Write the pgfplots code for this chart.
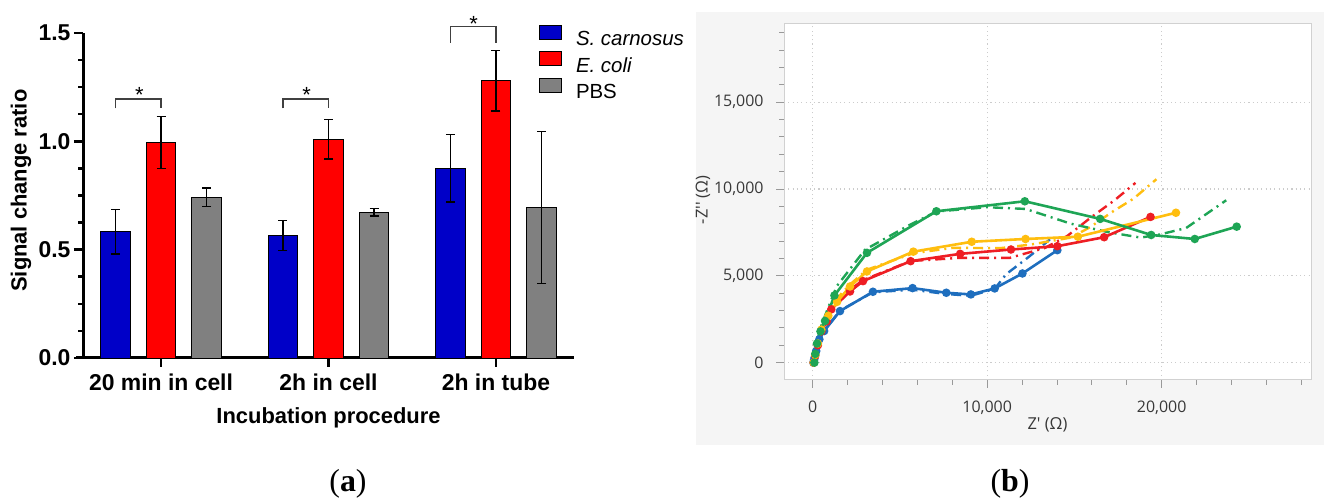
\documentclass[border=0pt]{standalone}
\usepackage{fontspec}
\setmainfont{Liberation Sans}
\newfontfamily\osans[Ligatures=TeXOff]{Open Sans}
\newfontfamily\lserif{Liberation Serif}
\usepackage{pgfplots}
\pgfplotsset{compat=1.18}
\definecolor{cblue}{RGB}{0,0,200}
\definecolor{cred}{RGB}{255,0,0}
\definecolor{cgray}{RGB}{128,128,128}
\definecolor{pblue}{RGB}{30,110,190}
\definecolor{pred}{RGB}{238,30,36}
\definecolor{pyel}{RGB}{255,190,15}
\definecolor{pgreen}{RGB}{30,165,85}
\definecolor{bggray}{RGB}{245,245,245}
\begin{document}
\begin{tikzpicture}[x=1bp,y=1bp]
\useasboundingbox (0,0) rectangle (1324,499);
\fill[white] (0,0) rectangle (1324,499);
\fill[bggray] (696,54) rectangle (1324,487);

% ---------------- panel (a)
\begin{axis}[
  at={(83bp,141bp)}, anchor=south west, scale only axis,
  width=491bp, height=325bp,
  xmin=0.534, xmax=3.466, ymin=0, ymax=1.5,
  clip=false,
  axis x line=bottom, axis y line=left,
  axis line style={line width=3bp,-},
  xtick={1,2,3},
  xticklabels={20 min in cell, 2h in cell, 2h in tube},
  ytick={0,0.5,1,1.5}, minor y tick num=3,
  tick align=outside,
  major tick length=9bp, minor tick length=5bp,
  every tick/.style={black, line width=2.5bp},
  /pgf/number format/assume math mode=true,
  tick label style={font=\bfseries\fontsize{23}{27}\selectfont},
  xticklabel style={yshift=-3bp},
  yticklabel style={/pgf/number format/.cd, fixed, fixed zerofill, precision=1},
  xlabel={Incubation procedure},
  ylabel={Signal change ratio},
  label style={font=\bfseries\fontsize{22}{26}\selectfont},
  xlabel style={at={(axis description cs:0.5,-0.1846)}, anchor=center},
  ylabel style={at={(axis description cs:-0.126,0.515)}, anchor=center},
  legend style={at={(axis description cs:0.9287,1.026)}, anchor=north west,
    draw=none, fill=none, inner sep=0pt, row sep=4bp, column sep=0bp,
    font=\fontsize{20.5}{24}\selectfont,
    nodes={inner sep=0pt}},
  legend cell align=left,
  legend image code/.code={\draw[#1,draw=black,line width=0.8bp] (0bp,0bp) rectangle (22bp,14bp);
     \path (36bp,0bp);},
]
\addplot[ybar, bar width=29.5bp, bar shift=0pt, fill=cblue, draw=black, line width=0.8bp,
  error bars/.cd, y dir=both, y explicit,
  error bar style={line width=1.3bp,black},
  error mark options={rotate=90, mark size=4.5bp, line width=1.3bp, black}]
  coordinates {(0.728,0.582) +- (0,0.102) (1.728,0.565) +- (0,0.068) (2.728,0.875) +- (0,0.155)};
\addlegendentry{\textit{S. carnosus}}
\addplot[ybar, bar width=29.5bp, bar shift=0pt, fill=cred, draw=black, line width=0.8bp,
  error bars/.cd, y dir=both, y explicit,
  error bar style={line width=1.3bp,black},
  error mark options={rotate=90, mark size=4.5bp, line width=1.3bp, black}]
  coordinates {(1,0.995) +- (0,0.12) (2,1.01) +- (0,0.092) (3,1.28) +- (0,0.14)};
\addlegendentry{\textit{E. coli}}
\addplot[ybar, bar width=29.5bp, bar shift=0pt, fill=cgray, draw=black, line width=0.8bp,
  error bars/.cd, y dir=both, y explicit,
  error bar style={line width=1.3bp,black},
  error mark options={rotate=90, mark size=4.5bp, line width=1.3bp, black}]
  coordinates {(1.272,0.742) +- (0,0.042) (2.272,0.673) +- (0,0.018) (3.272,0.695) +- (0,0.35)};
\addlegendentry{PBS}
\draw[line width=3bp] (axis cs:0.4925,0) -- (axis cs:0.56,0);
\draw[line width=1.2bp, black!75] (axis cs:0.728,1.152) -- (axis cs:0.728,1.195) -- (axis cs:1,1.195) -- (axis cs:1,1.152);
\draw[line width=1.2bp, black!75] (axis cs:1.728,1.152) -- (axis cs:1.728,1.195) -- (axis cs:2,1.195) -- (axis cs:2,1.152);
\draw[line width=1.2bp, black!75] (axis cs:2.728,1.455) -- (axis cs:2.728,1.529) -- (axis cs:3,1.529) -- (axis cs:3,1.455);
\node[anchor=base, font=\fontsize{22}{26}\selectfont] at (axis cs:0.87,1.177) {*};
\node[anchor=base, font=\fontsize{22}{26}\selectfont] at (axis cs:1.87,1.177) {*};
\node[anchor=base, font=\fontsize{22}{26}\selectfont] at (axis cs:2.866,1.509) {*};
\end{axis}

% ---------------- panel (b)
\begin{axis}[
  at={(784bp,119bp)}, anchor=south west, scale only axis,
  width=527bp, height=356bp,
  xmin=-1640, xmax=28560, ymin=-1000, ymax=19500,
  axis background/.style={fill=white},
  axis line style={draw=black!18, line width=1bp},
  tick pos=left, tick align=outside,
  xtick={0,10000,20000}, ytick={0,5000,10000,15000},
  minor xtick={0,2000,...,28000}, minor ytick={0,1000,...,19000},
  major tick length=8bp, minor tick length=5bp,
  every tick/.style={black!40, line width=0.8bp},
  grid=major, major grid style={black!20, line width=1.1bp, dash pattern=on 1.1bp off 3.2bp},
  scaled x ticks=false, scaled y ticks=false,
  /pgf/number format/assume math mode=true,
  tick label style={font=\osans\fontsize{16}{19}\selectfont, text=black!78},
  xticklabel style={yshift=-9bp},
  yticklabel style={xshift=-9bp},
  xlabel={Z' (Ω)}, ylabel={-Z'' (Ω)},
  label style={font=\osans\fontsize{16.5}{19}\selectfont, text=black!78},
  xlabel style={at={(axis description cs:0.5,-0.126)}, anchor=center},
  ylabel style={at={(axis description cs:-0.1537,0.506)}, anchor=center},
  solid/.style={line width=2.6bp, mark=*, mark size=2.9bp, mark options={solid}},
  dd/.style={line width=2.4bp, dash pattern=on 10bp off 5bp on 2bp off 5bp},
]
% dash-dot series
\addplot[pblue, dd] coordinates {(45,0)(114,300)(205,700)(386,1400)(700,1900)(1568,3000)(3455,4050)(5727,4200)(7659,3950)(9068,3850)(10432,4250)(11100,5100)(12400,6100)(13600,7100)};
\addplot[pred, dd] coordinates {(60,0)(150,450)(300,1100)(500,1900)(808,2500)(1068,3150)(2143,4200)(2886,4750)(5614,5850)(8454,6034)(11300,6034)(13300,6600)(14600,7300)(16000,8400)(17300,9350)(18500,10350)};
\addplot[pyel, dd] coordinates {(60,0)(150,500)(300,1200)(500,2000)(900,2850)(1400,3700)(2143,4500)(3114,5350)(5771,6300)(8045,6610)(10740,6590)(12500,6800)(14800,7200)(15900,7800)(17200,8700)(18400,9450)(19700,10560)};
\addplot[pgreen, dd] coordinates {(100,0)(150,500)(250,1200)(450,2000)(711,2700)(1380,4400)(3000,6500)(5500,7900)(7091,8700)(10000,8950)(12200,8850)(14800,8000)(17000,7500)(18800,7200)(19900,7380)(21400,7750)(23700,9350)};
% solid series
\addplot[pblue, solid] coordinates {(45,0)(80,150)(114,287)(205,670)(386,1341)(659,1820)(1568,2969)(3455,4080)(5727,4291)(7659,4023)(9068,3927)(10432,4272)(12023,5134)(14023,6475)};
\addplot[pred, solid] coordinates {(60,0)(150,400)(300,1000)(500,1800)(808,2374)(1068,3065)(2143,4098)(2886,4693)(5614,5843)(8454,6264)(11364,6513)(14023,6705)(16705,7222)(19364,8391)};
\addplot[pyel, solid] coordinates {(60,0)(150,450)(300,1100)(500,1900)(900,2700)(1400,3500)(2143,4386)(3114,5250)(5771,6390)(9118,6960)(12200,7120)(15200,7250)(20820,8630)};
\addplot[pgreen, solid] coordinates {(100,0)(150,500)(250,1100)(450,1800)(711,2400)(1250,3870)(3114,6322)(7091,8716)(12159,9291)(16477,8276)(19400,7350)(21900,7120)(24300,7830)};
\end{axis}

\node[font=\lserif\fontsize{32}{36}\selectfont, anchor=base] at (348,7) {(\textbf{a})};
\node[font=\lserif\fontsize{32}{36}\selectfont, anchor=base] at (1010,7) {(\textbf{b})};
\end{tikzpicture}
\end{document}
